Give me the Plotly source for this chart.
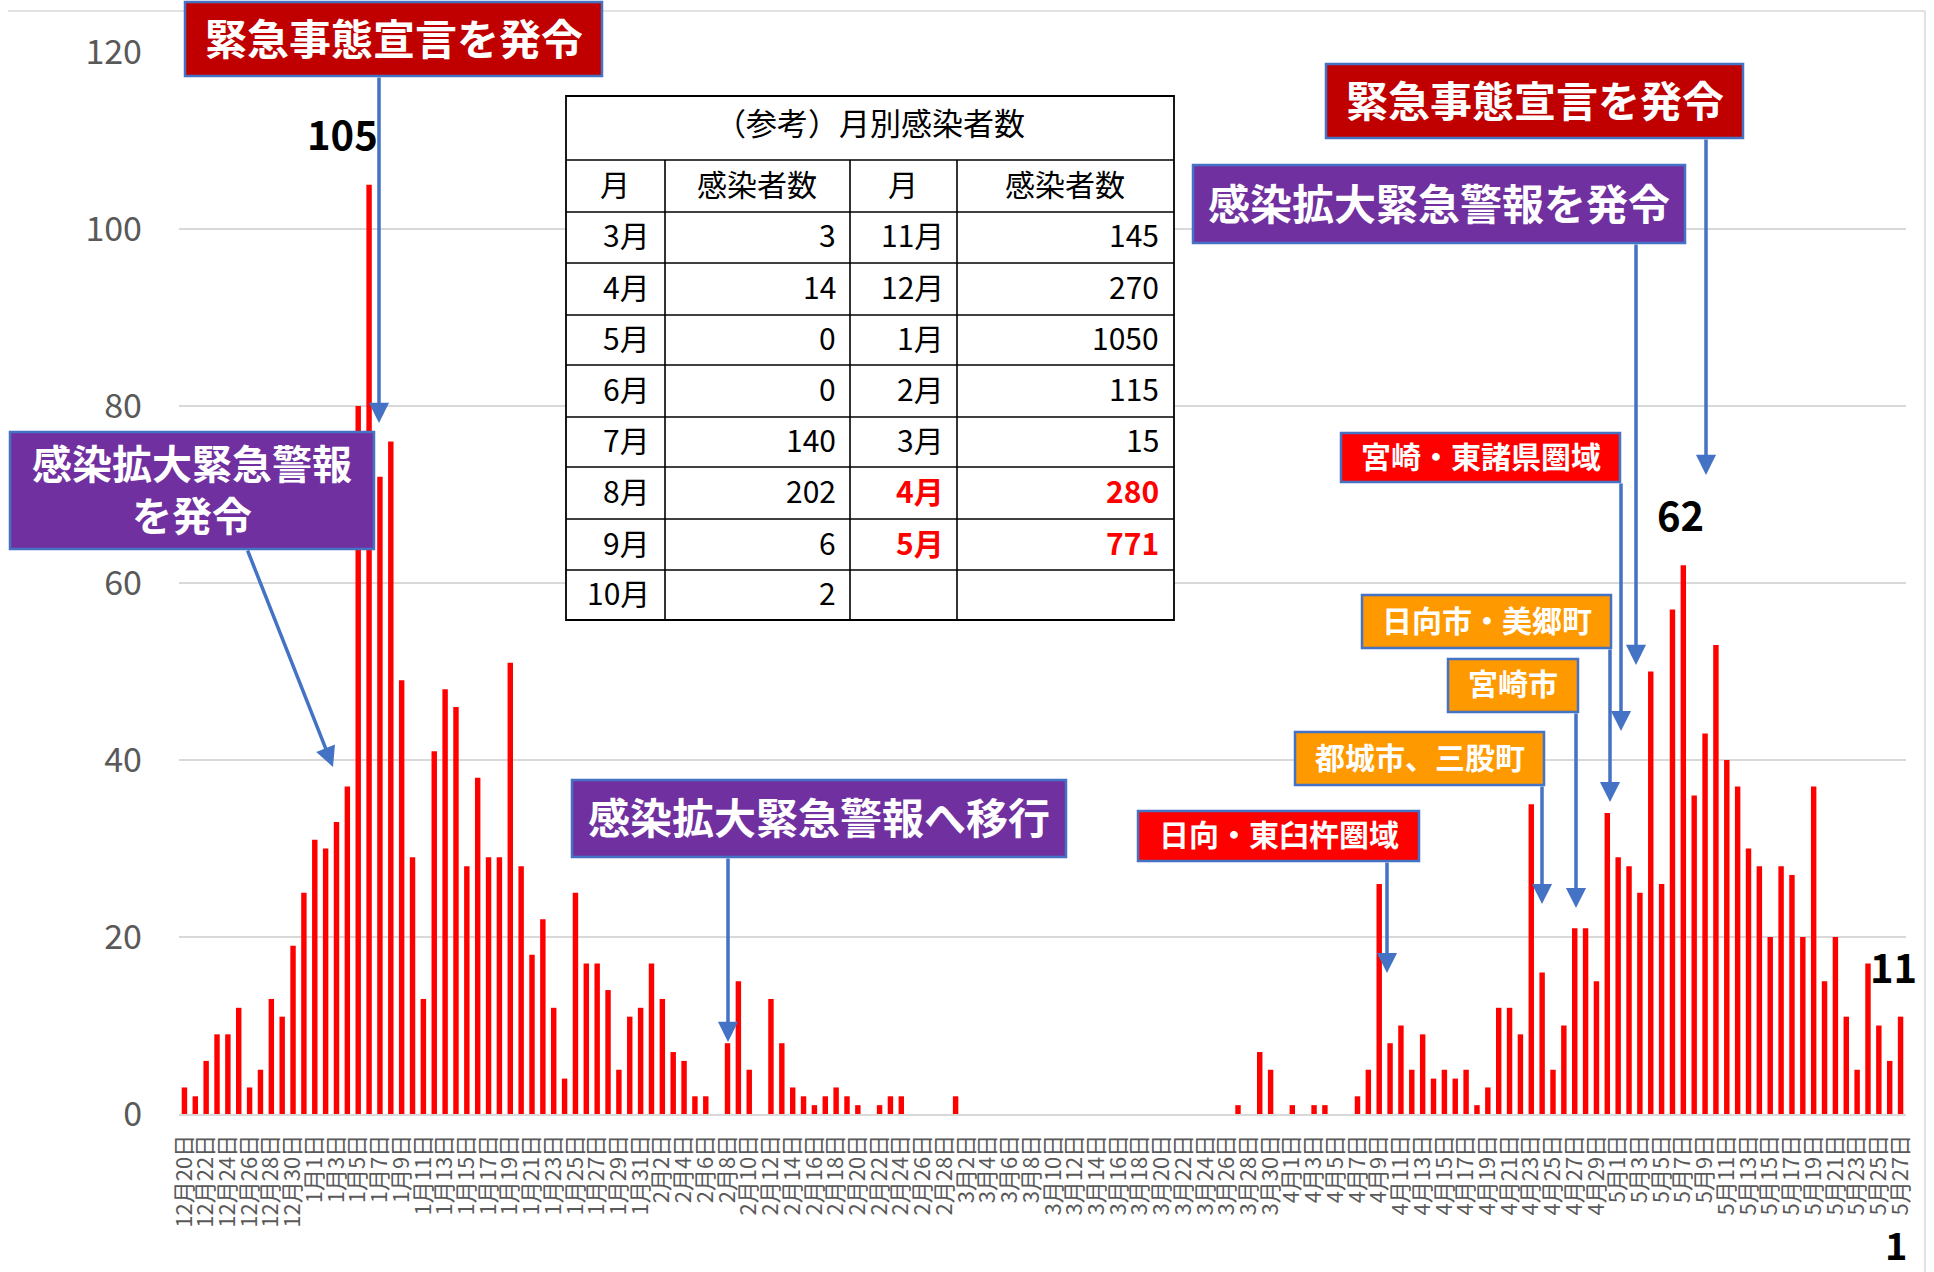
import plotly.graph_objects as go

# ---------------- data ----------------
dec_vals = [3, 2, 6, 9, 9, 12, 3, 5, 13, 11, 19, 25]                      # 12/20-12/31
jan_vals = [31, 30, 33, 37, 80, 105, 72, 76, 49, 29, 13, 41, 48, 46, 28, 38,
            29, 29, 51, 28, 18, 22, 12, 4, 25, 17, 17, 14, 5, 11, 12]
feb_vals = [17, 13, 7, 6, 2, 2, 0, 8, 15, 5, 0, 13, 8, 3, 2, 1, 2, 3, 2, 1,
            0, 1, 2, 2, 0, 0, 0, 0]
mar_vals = [2, 0, 0, 0, 0, 0, 0, 0, 0, 0, 0, 0, 0, 0, 0, 0, 0, 0, 0, 0,
            0, 0, 0, 0, 0, 0, 1, 0, 7, 5, 0]
apr_vals = [1, 0, 1, 1, 0, 0, 2, 5, 26, 8, 10, 5, 9, 4, 5, 4, 5, 1, 3, 12,
            12, 9, 35, 16, 5, 10, 21, 21, 15, 34]
may_vals = [29, 28, 25, 50, 26, 57, 62, 36, 43, 53, 40, 37, 30, 28, 20, 28,
            27, 20, 37, 15, 20, 11, 5, 17, 10, 6, 11]                        # 5/1-5/27

month_blocks = [(12, 20, dec_vals), (1, 1, jan_vals), (2, 1, feb_vals),
                (3, 1, mar_vals), (4, 1, apr_vals), (5, 1, may_vals)]

# reference table (monthly totals)
tbl_months_left = ["3月", "4月", "5月", "6月", "7月", "8月", "9月", "10月"]
tbl_counts_left = [3, 14, 0, 0, 140, 202, 6, 2]
tbl_months_right = ["11月", "12月", "1月", "2月", "3月", "4月", "5月"]
tbl_counts_right = [145, 270, 1050, 115, 15, 280, 771]
tbl_highlight_right = [False, False, False, False, False, True, True]

categories, values = [], []
for m, d0, vals in month_blocks:
    for k, v in enumerate(vals):
        categories.append(f"{m}月{d0 + k}日")
        values.append(v)
tick_labels = categories[::2]

# ---------------- geometry helpers ----------------
W, H = 1934, 1272
L, R, T, B = 179, 28, 52, 158
PW, PH = W - L - R, H - T - B
FONT = "Noto Sans CJK JP"
BLUE = "#4472C4"
DY = -3   # small upward nudge for CJK text centring


def px(x):
    return (x - L) / PW


def py(y):
    return (H - B - y) / PH


shapes, annos = [], []


def box(x0, y0, x1, y1, fill, text, size, bold=True):
    shapes.append(dict(type="rect", xref="paper", yref="paper", layer="above",
                       x0=px(x0), x1=px(x1), y0=py(y1), y1=py(y0),
                       fillcolor=fill, line=dict(color=BLUE, width=2.5)))
    cx = (x0 + x1) / 2
    cy = (y0 + y1) / 2 + DY
    annos.append(dict(xref="paper", yref="paper", x=px(cx), y=py(cy),
                      xanchor="center", yanchor="middle", showarrow=False,
                      align="center",
                      text=f"<b>{text}</b>" if bold else text,
                      font=dict(family=FONT, size=size, color="white")))


def arrow(x_tail, y_tail, x_tip, y_tip):
    annos.append(dict(xref="paper", yref="paper", x=px(x_tip), y=py(y_tip),
                      ax=x_tail - x_tip, ay=y_tail - y_tip, text="",
                      showarrow=True, arrowhead=2, arrowsize=1.15, arrowwidth=3.5,
                      arrowcolor=BLUE, standoff=0, startstandoff=0))


def label(x, y, t, size=40, bold=True, color="black"):
    annos.append(dict(xref="paper", yref="paper", x=px(x), y=py(y + DY),
                      xanchor="center", yanchor="middle", showarrow=False,
                      text=f"<b>{t}</b>" if bold else t,
                      font=dict(family=FONT, size=size, color=color)))


def hline(x0, x1, y, color="black", width=1.6):
    shapes.append(dict(type="line", xref="paper", yref="paper", layer="above",
                       x0=px(x0), x1=px(x1), y0=py(y), y1=py(y),
                       line=dict(color=color, width=width)))


def vline(x, y0, y1, color="black", width=1.6):
    shapes.append(dict(type="line", xref="paper", yref="paper", layer="above",
                       x0=px(x), x1=px(x), y0=py(y0), y1=py(y1),
                       line=dict(color=color, width=width)))


# chart-area border (top and right visible)
hline(8, 1925, 11, color="#D9D9D9", width=1.5)
vline(1925, 11, 1280, color="#D9D9D9", width=1.5)

# ---------------- table ----------------
tx0, tx1, ty0, ty1 = 566, 1174, 96, 620
TF = 30
shapes.append(dict(type="rect", xref="paper", yref="paper", layer="above",
                   x0=px(tx0), x1=px(tx1), y0=py(ty1), y1=py(ty0),
                   fillcolor="white", line=dict(color="black", width=1.8)))
row_lines = [160, 212, 263, 315, 365, 417, 467, 519, 570]
for yv in row_lines:
    hline(tx0, tx1, yv)
for xv in [665, 850, 957]:
    vline(xv, 160, ty1)
label((tx0 + tx1) / 2, 124, "（参考）月別感染者数", size=31, bold=False)
for cx, t in [(615, "月"), (757, "感染者数"), (903, "月"), (1065, "感染者数")]:
    label(cx, 186, t, size=TF, bold=False)
edges = row_lines[1:] + [ty1]
row_centers = [(edges[i] + edges[i + 1]) / 2 for i in range(len(edges) - 1)]


def rtext(x, y, t, bold=False, color="black"):
    annos.append(dict(xref="paper", yref="paper", x=px(x), y=py(y + DY),
                      xanchor="right", yanchor="middle", showarrow=False,
                      text=f"<b>{t}</b>" if bold else t,
                      font=dict(family=FONT, size=TF, color=color)))


for i, (mo, c) in enumerate(zip(tbl_months_left, tbl_counts_left)):
    rtext(652, row_centers[i], mo)
    rtext(838, row_centers[i], str(c))
for i, (mo, c, hl) in enumerate(zip(tbl_months_right, tbl_counts_right, tbl_highlight_right)):
    col = "#FF0000" if hl else "black"
    rtext(946, row_centers[i], mo, bold=hl, color=col)
    rtext(1161, row_centers[i], str(c), bold=hl, color=col)

# ---------------- callout boxes + arrows ----------------
box(185, 2, 602, 76, "#C00000", "緊急事態宣言を発令", 42)
arrow(379, 76, 379, 423)

box(10, 432, 374, 549, "#7030A0", "感染拡大緊急警報<br>を発令", 40)
arrow(247, 549, 333, 767)

box(572, 780, 1066, 857, "#7030A0", "感染拡大緊急警報へ移行", 42)
arrow(728, 857, 728, 1042)

box(1326, 64, 1743, 138, "#C00000", "緊急事態宣言を発令", 42)
arrow(1706, 138, 1706, 475)

box(1193, 165, 1685, 243, "#7030A0", "感染拡大緊急警報を発令", 42)
arrow(1636, 243, 1636, 665)

box(1341, 433, 1620, 482, "#FF0000", "宮崎・東諸県圏域", 30)
arrow(1621, 482, 1621, 731)

box(1362, 595, 1611, 648, "#FF9900", "日向市・美郷町", 30)
arrow(1610, 648, 1610, 802)

box(1448, 659, 1578, 712, "#FF9900", "宮崎市", 30)
arrow(1576, 712, 1576, 908)

box(1295, 732, 1544, 785, "#FF9900", "都城市、三股町", 30)
arrow(1542, 785, 1542, 904)

box(1138, 811, 1419, 861, "#FF0000", "日向・東臼杵圏域", 30)
arrow(1387, 861, 1387, 973)

# value labels
label(342, 136, "105", size=40)
label(1680, 517, "62", size=40)
label(1893, 969, "11", size=40)
label(1896, 1246, "1", size=38)

# ---------------- figure ----------------
fig = go.Figure(go.Bar(x=categories, y=values,
                       marker=dict(color="#FF0000", line=dict(width=0)),
                       hoverinfo="x+y"))
fig.update_layout(
    width=W, height=H,
    margin=dict(l=L, r=R, t=T, b=B, pad=0),
    paper_bgcolor="white", plot_bgcolor="white",
    bargap=0.5, showlegend=False,
    shapes=shapes, annotations=annos,
    font=dict(family=FONT),
)
fig.update_xaxes(type="category", range=[-0.5, len(categories) - 0.5],
                 tickmode="array", tickvals=tick_labels, ticktext=tick_labels,
                 tickangle=-90, ticks="", showgrid=False,
                 showline=True, linecolor="#D9D9D9", linewidth=2,
                 tickfont=dict(family=FONT, size=22, color="#595959"),
                 ticklabelstandoff=10)
fig.update_yaxes(range=[0, 120], tick0=0, dtick=20, showgrid=True,
                 gridcolor="#D9D9D9", gridwidth=1.5, zeroline=False,
                 showline=False, ticks="",
                 tickfont=dict(family=FONT, size=34, color="#595959"),
                 ticklabelstandoff=36)

fig.write_html("out.html", config={"displayModeBar": False},
               post_script="document.body.style.margin='0';document.body.style.overflow='hidden';")
